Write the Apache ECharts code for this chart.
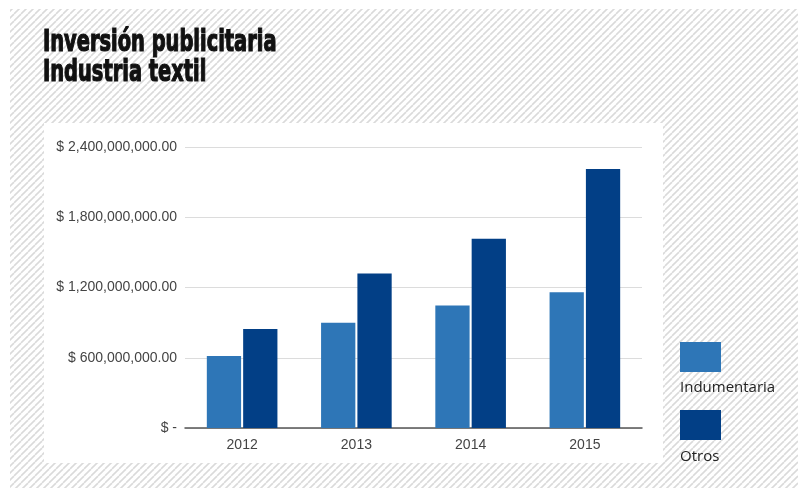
<!DOCTYPE html>
<html>
<head>
<meta charset="utf-8">
<script src="https://cdn.jsdelivr.net/npm/echarts@6/dist/echarts.min.js"></script>
<style>
  html, body { margin: 0; padding: 0; background: #ffffff; }
  #chart { width: 798px; height: 488px; }
</style>
</head>
<body>
<div id="chart"></div>
<script>
// Advertising spend by year, textile industry
const titleLines = ['Inversión publicitaria', 'Industria textil'];
const years = ['2012', '2013', '2014', '2015'];
const seriesNames = ['Indumentaria', 'Otros'];
const indumentaria = [615000000, 899000000, 1047000000, 1160000000];
const otros = [845000000, 1319000000, 1617000000, 2213000000];
const yTicks = [0, 600000000, 1200000000, 1800000000, 2400000000];
const yTickLabels = ['$ -', '$ 600,000,000.00', '$ 1,200,000,000.00', '$ 1,800,000,000.00', '$ 2,400,000,000.00'];
const seriesColors = ['#2E76B7', '#023F86'];

// Diagonal hatch tile for the page background
function hatchTile() {
  const p = 7;
  const c = document.createElement('canvas');
  c.width = p; c.height = p;
  const ctx = c.getContext('2d');
  ctx.fillStyle = '#ffffff';
  ctx.fillRect(0, 0, p, p);
  ctx.strokeStyle = '#dadada';
  ctx.lineWidth = 1.6;
  for (const k of [-p, 0, p]) {
    ctx.beginPath();
    ctx.moveTo(k, p);
    ctx.lineTo(k + p, 0);
    ctx.stroke();
  }
  return c;
}

const chart = echarts.init(document.getElementById('chart'), null, { renderer: 'canvas' });
const step = yTicks[1] - yTicks[0];
const titleFont = 'bold 30px "Liberation Sans Narrow", "DejaVu Sans Condensed", sans-serif';

const option = {
  backgroundColor: '#ffffff',
  animation: false,
  grid: { left: 185, right: 156, top: 147, bottom: 60, containLabel: false },
  xAxis: {
    type: 'category',
    data: years,
    axisLine: { show: true, lineStyle: { color: '#555555', width: 1.5 } },
    axisTick: { show: false },
    axisLabel: { color: '#444444', fontFamily: 'Arial, Liberation Sans', fontSize: 14, margin: 10 }
  },
  yAxis: {
    type: 'value',
    min: yTicks[0],
    max: yTicks[yTicks.length - 1],
    interval: step,
    axisLine: { show: false },
    axisTick: { show: false },
    splitLine: { lineStyle: { color: '#dcdcdc', width: 1 } },
    axisLabel: {
      color: '#444444', fontFamily: 'Arial, Liberation Sans', fontSize: 14, margin: 8,
      formatter: v => yTickLabels[Math.round((v - yTicks[0]) / step)]
    }
  },
  series: [
    { name: seriesNames[0], type: 'bar', data: indumentaria, barWidth: '30%', barGap: '6%',
      itemStyle: { color: seriesColors[0] } },
    { name: seriesNames[1], type: 'bar', data: otros, barWidth: '30%', barGap: '6%',
      itemStyle: { color: seriesColors[1] } }
  ],
  graphic: [
    { type: 'rect', z: -10, silent: true,
      shape: { x: 10, y: 9, width: 788, height: 479 },
      style: { fill: { image: hatchTile(), repeat: 'repeat' } } },
    { type: 'rect', z: -5, silent: true,
      shape: { x: 44, y: 123, width: 619, height: 340 },
      style: { fill: '#ffffff' } },
    { type: 'text', x: 43, y: 28, z: 10, scaleX: 0.72,
      style: { text: titleLines[0], fill: '#111111', stroke: '#111111', lineWidth: 1.2, font: titleFont } },
    { type: 'text', x: 43, y: 58, z: 10, scaleX: 0.72,
      style: { text: titleLines[1], fill: '#111111', stroke: '#111111', lineWidth: 1.2, font: titleFont } },
    { type: 'rect', shape: { x: 680, y: 342, width: 41, height: 30 }, style: { fill: seriesColors[0] } },
    { type: 'text', x: 680, y: 380, style: { text: seriesNames[0], fill: '#222222', font: '15px "Open Sans", sans-serif' } },
    { type: 'rect', shape: { x: 680, y: 410, width: 41, height: 30 }, style: { fill: seriesColors[1] } },
    { type: 'text', x: 680, y: 449, style: { text: seriesNames[1], fill: '#222222', font: '15px "Open Sans", sans-serif' } }
  ]
};
chart.setOption(option);
</script>
</body>
</html>
